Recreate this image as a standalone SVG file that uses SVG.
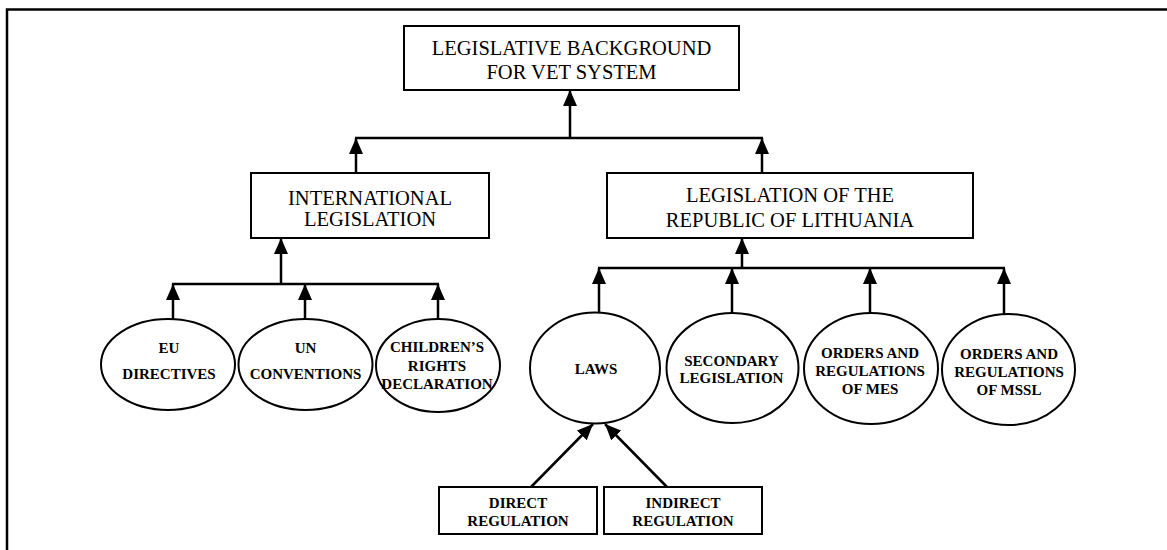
<svg xmlns="http://www.w3.org/2000/svg" width="1167" height="550" viewBox="0 0 1167 550">
  <style>
    .box { fill: #fff; stroke: #000; stroke-width: 2; }
    .ell { fill: #fff; stroke: #000; stroke-width: 2; }
    .big { font-family: "Liberation Serif", "Times New Roman", serif; font-size: 20.5px; fill: #000; text-anchor: middle; }
    .sm { font-family: "Liberation Serif", "Times New Roman", serif; font-size: 15px; font-weight: bold; fill: #000; text-anchor: middle; }
    .conn { stroke: #000; stroke-width: 2.5; fill: none; }
    .frame { stroke: #000; stroke-width: 2.5; fill: none; }
  </style>
  <defs>
    <marker id="arr" viewBox="0 0 16 14" refX="16" refY="7" markerWidth="16" markerHeight="14" markerUnits="userSpaceOnUse" orient="auto">
      <path d="M0,0 L16,7 L0,14 z" fill="#000"/>
    </marker>
  </defs>

  <rect width="1167" height="550" fill="#fff"/>
  <path class="frame" d="M7,550 L7,9.5 L1167,9.5"/>

  <g id="connectors">
    <line class="conn" x1="570" y1="138" x2="570" y2="90" marker-end="url(#arr)"/>
    <line class="conn" x1="355" y1="138" x2="763" y2="138"/>
    <line class="conn" x1="356" y1="173" x2="356" y2="138" marker-end="url(#arr)"/>
    <line class="conn" x1="762" y1="173" x2="762" y2="138" marker-end="url(#arr)"/>

    <line class="conn" x1="281" y1="284" x2="281" y2="238" marker-end="url(#arr)"/>
    <line class="conn" x1="172" y1="284" x2="439" y2="284"/>
    <line class="conn" x1="173" y1="319" x2="173" y2="284" marker-end="url(#arr)"/>
    <line class="conn" x1="305" y1="319" x2="305" y2="284" marker-end="url(#arr)"/>
    <line class="conn" x1="438" y1="319" x2="438" y2="284" marker-end="url(#arr)"/>

    <line class="conn" x1="742" y1="268" x2="742" y2="238" marker-end="url(#arr)"/>
    <line class="conn" x1="598" y1="268" x2="1005" y2="268"/>
    <line class="conn" x1="599" y1="313" x2="599" y2="268" marker-end="url(#arr)"/>
    <line class="conn" x1="732" y1="313" x2="732" y2="268" marker-end="url(#arr)"/>
    <line class="conn" x1="870" y1="313" x2="870" y2="268" marker-end="url(#arr)"/>
    <line class="conn" x1="1004" y1="314" x2="1004" y2="268" marker-end="url(#arr)"/>

    <line class="conn" x1="531" y1="487" x2="593" y2="424" marker-end="url(#arr)"/>
    <line class="conn" x1="667" y1="487" x2="605" y2="424" marker-end="url(#arr)"/>
  </g>

  <g id="root">
    <rect class="box" x="404" y="26" width="335" height="64"/>
    <text class="big" x="571.5" y="55">LEGISLATIVE BACKGROUND</text>
    <text class="big" x="571.5" y="79">FOR VET SYSTEM</text>
  </g>

  <g id="international">
    <rect class="box" x="251" y="173" width="238" height="65"/>
    <text class="big" x="370" y="205">INTERNATIONAL</text>
    <text class="big" x="370" y="226">LEGISLATION</text>
  </g>

  <g id="lithuania">
    <rect class="box" x="607" y="173" width="366" height="65"/>
    <text class="big" x="790" y="202">LEGISLATION OF THE</text>
    <text class="big" x="790" y="227">REPUBLIC OF LITHUANIA</text>
  </g>

  <g id="eu">
    <ellipse class="ell" cx="168" cy="364.5" rx="67" ry="45.5"/>
    <text class="sm" x="169" y="353">EU</text>
    <text class="sm" x="169" y="379">DIRECTIVES</text>
  </g>

  <g id="un">
    <ellipse class="ell" cx="305.5" cy="364.5" rx="67" ry="45.5"/>
    <text class="sm" x="305.5" y="353">UN</text>
    <text class="sm" x="305.5" y="379">CONVENTIONS</text>
  </g>

  <g id="children">
    <ellipse class="ell" cx="438" cy="365.5" rx="62" ry="46.5"/>
    <text class="sm" x="437" y="352">CHILDREN’S</text>
    <text class="sm" x="437" y="371">RIGHTS</text>
    <text class="sm" x="437" y="389">DECLARATION</text>
  </g>

  <g id="laws">
    <ellipse class="ell" cx="595" cy="368" rx="65" ry="55.5"/>
    <text class="sm" x="596" y="374">LAWS</text>
  </g>

  <g id="secondary">
    <ellipse class="ell" cx="732.5" cy="368" rx="66" ry="55"/>
    <text class="sm" x="731.5" y="366">SECONDARY</text>
    <text class="sm" x="731.5" y="383">LEGISLATION</text>
  </g>

  <g id="mes">
    <ellipse class="ell" cx="871" cy="368.5" rx="67" ry="55.5"/>
    <text class="sm" x="870" y="358">ORDERS AND</text>
    <text class="sm" x="870" y="376">REGULATIONS</text>
    <text class="sm" x="870" y="394">OF MES</text>
  </g>

  <g id="mssl">
    <ellipse class="ell" cx="1008.5" cy="369.5" rx="66.5" ry="55.5"/>
    <text class="sm" x="1009" y="359">ORDERS AND</text>
    <text class="sm" x="1009" y="377">REGULATIONS</text>
    <text class="sm" x="1009" y="395">OF MSSL</text>
  </g>

  <g id="direct">
    <rect class="box" x="439" y="487" width="158" height="47"/>
    <text class="sm" x="518" y="508">DIRECT</text>
    <text class="sm" x="518" y="526">REGULATION</text>
  </g>

  <g id="indirect">
    <rect class="box" x="604" y="487" width="158" height="47"/>
    <text class="sm" x="683" y="508">INDIRECT</text>
    <text class="sm" x="683" y="526">REGULATION</text>
  </g>
</svg>
